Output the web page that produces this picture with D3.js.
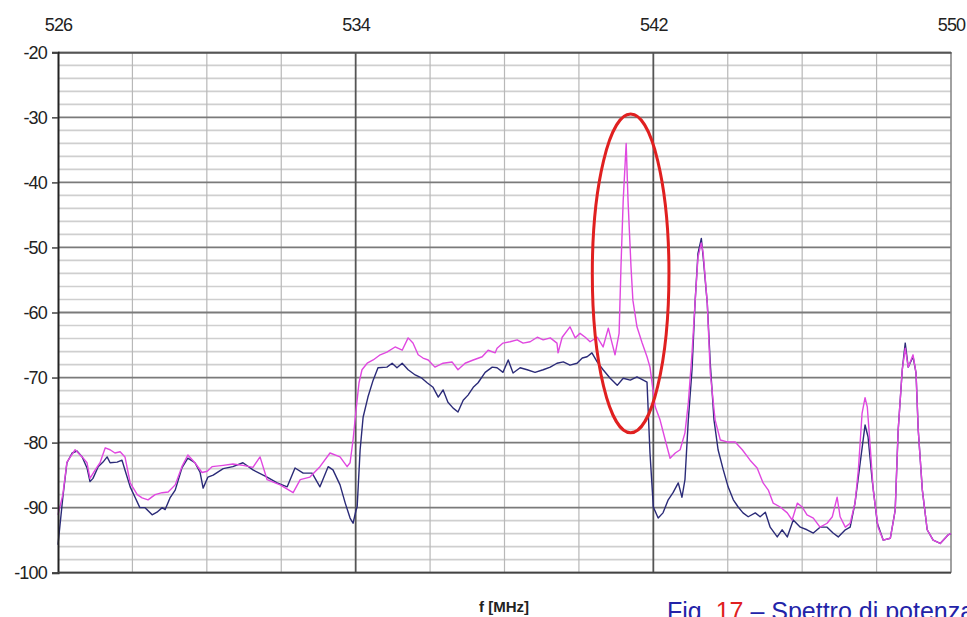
<!DOCTYPE html>
<html>
<head>
<meta charset="utf-8">
<script src="https://cdn.jsdelivr.net/npm/d3@7"></script>
<style>
  body { margin: 0; background: #fff; overflow: hidden; }
  svg { display: block; }
</style>
</head>
<body>
<svg id="chart" width="967" height="617"></svg>
<script>
// frequency ticks (MHz) and level ticks (dB)
const freqLabels = [526, 534, 542, 550];
const freqMinor = [528, 530, 532, 536, 538, 540, 544, 546, 548];
const dbLabels = [-100, -90, -80, -70, -60, -50, -40, -30, -20];

// [f MHz, level dB]
const traceNavy = [
  [526.00, -95.7], [526.13, -88.4], [526.24, -83.1], [526.38, -81.6], [526.51, -81.3],
  [526.65, -82.2], [526.78, -83.9], [526.86, -86.0], [526.94, -85.5], [527.08, -83.7],
  [527.21, -83.0], [527.32, -82.2], [527.40, -83.1], [527.59, -83.0], [527.72, -82.7],
  [527.80, -84.2], [527.94, -86.8], [528.07, -88.4], [528.20, -90.0], [528.34, -90.0],
  [528.53, -91.1], [528.66, -90.7], [528.80, -90.0], [528.88, -90.3], [529.01, -88.5],
  [529.15, -87.3], [529.33, -83.9], [529.49, -82.4], [529.68, -83.1], [529.82, -84.6],
  [529.90, -87.0], [530.03, -85.3], [530.17, -85.0], [530.44, -84.0], [530.70, -83.7],
  [530.97, -83.1], [531.24, -84.2], [531.62, -85.3], [531.89, -86.2], [532.16, -86.8],
  [532.37, -83.9], [532.59, -84.7], [532.83, -84.7], [533.04, -86.8], [533.26, -83.7],
  [533.39, -84.2], [533.58, -86.5], [533.72, -89.3], [533.85, -91.6], [533.93, -92.4],
  [534.01, -90.4], [534.04, -89.9], [534.12, -81.1], [534.20, -76.1], [534.33, -73.0],
  [534.47, -70.4], [534.60, -68.5], [534.84, -68.4], [534.98, -67.8], [535.11, -68.5],
  [535.25, -67.8], [535.41, -68.8], [535.60, -69.6], [535.78, -70.1], [535.92, -70.8],
  [536.08, -71.5], [536.22, -73.0], [536.35, -71.9], [536.48, -73.8], [536.62, -74.7],
  [536.75, -75.3], [536.89, -73.5], [537.02, -72.7], [537.16, -71.5], [537.29, -70.8],
  [537.48, -69.2], [537.67, -68.4], [537.80, -68.5], [537.96, -69.2], [538.10, -67.3],
  [538.23, -69.3], [538.42, -68.5], [538.61, -68.8], [538.82, -69.2], [539.04, -68.8],
  [539.23, -68.4], [539.41, -67.8], [539.58, -67.6], [539.76, -68.1], [539.95, -67.8],
  [540.09, -67.0], [540.22, -66.8], [540.35, -66.2], [540.49, -67.6], [540.65, -68.8],
  [540.84, -70.1], [541.03, -71.2], [541.19, -70.1], [541.38, -70.4], [541.56, -69.9],
  [541.73, -70.4], [541.83, -70.7], [541.91, -81.6], [542.00, -89.9], [542.13, -91.6],
  [542.26, -90.8], [542.40, -88.8], [542.53, -87.7], [542.67, -86.2], [542.77, -88.4],
  [542.85, -85.7], [542.94, -76.5], [543.04, -68.8], [543.12, -58.6], [543.20, -50.9],
  [543.29, -48.6], [543.34, -51.5], [543.45, -58.6], [543.53, -67.8], [543.63, -76.5],
  [543.74, -81.1], [543.88, -84.2], [544.01, -86.8], [544.15, -88.8], [544.28, -89.9],
  [544.41, -90.8], [544.55, -91.4], [544.74, -90.8], [544.87, -91.4], [545.01, -90.7],
  [545.14, -93.0], [545.33, -94.5], [545.46, -93.4], [545.60, -94.5], [545.76, -91.9],
  [545.95, -93.0], [546.13, -93.4], [546.30, -93.9], [546.48, -93.0], [546.67, -93.0],
  [546.83, -93.9], [546.97, -94.5], [547.16, -93.4], [547.29, -93.0], [547.42, -89.3],
  [547.56, -83.1], [547.69, -77.3], [547.77, -79.1], [547.88, -85.7], [548.02, -92.4],
  [548.18, -95.0], [548.37, -94.7], [548.50, -90.4], [548.58, -78.1], [548.69, -68.8],
  [548.77, -64.7], [548.85, -68.4], [548.98, -66.8], [549.06, -69.3], [549.12, -78.1],
  [549.23, -87.3], [549.36, -93.4], [549.52, -95.0], [549.71, -95.5], [549.84, -94.7],
  [549.92, -94.2], [550.00, -94.0]
];

const traceMagenta = [
  [526.00, -91.1], [526.13, -88.0], [526.24, -83.0], [526.46, -81.1], [526.65, -82.2],
  [526.78, -83.1], [526.86, -85.5], [527.00, -84.2], [527.13, -83.1], [527.27, -80.8],
  [527.40, -81.1], [527.53, -81.6], [527.67, -81.4], [527.80, -82.2], [527.94, -86.2],
  [528.13, -88.0], [528.26, -88.5], [528.42, -88.8], [528.61, -88.0], [528.80, -87.7],
  [528.96, -87.6], [529.15, -86.5], [529.33, -83.7], [529.49, -81.9], [529.68, -83.1],
  [529.87, -84.6], [530.01, -84.4], [530.14, -83.7], [530.44, -83.5], [530.70, -83.3],
  [530.97, -83.5], [531.24, -83.8], [531.43, -82.2], [531.62, -85.7], [531.97, -86.5],
  [532.32, -87.7], [532.51, -85.7], [532.77, -85.3], [533.04, -83.7], [533.31, -81.6],
  [533.58, -82.2], [533.77, -83.7], [533.85, -83.1], [533.93, -79.6], [534.01, -75.0],
  [534.09, -70.8], [534.17, -68.8], [534.31, -67.8], [534.47, -67.3], [534.66, -66.5],
  [534.84, -66.1], [535.06, -65.3], [535.25, -65.8], [535.41, -63.9], [535.54, -64.7],
  [535.68, -66.5], [535.81, -67.0], [535.95, -67.3], [536.13, -68.4], [536.35, -67.8],
  [536.59, -67.6], [536.75, -68.8], [536.94, -67.8], [537.16, -67.3], [537.40, -66.8],
  [537.56, -65.8], [537.75, -66.2], [537.80, -65.5], [537.96, -64.7], [538.15, -64.5],
  [538.34, -64.2], [538.50, -64.7], [538.69, -64.5], [538.88, -63.8], [539.04, -64.2],
  [539.23, -63.9], [539.41, -64.7], [539.44, -66.2], [539.55, -63.8], [539.76, -62.2],
  [539.90, -63.9], [540.03, -63.2], [540.17, -63.8], [540.30, -64.5], [540.49, -63.8],
  [540.65, -65.3], [540.79, -62.4], [540.89, -64.7], [540.97, -66.5], [541.08, -63.2],
  [541.13, -53.0], [541.19, -42.8], [541.27, -34.0], [541.32, -42.8], [541.40, -53.0],
  [541.45, -58.1], [541.56, -62.2], [541.70, -64.7], [541.83, -66.8], [541.91, -68.4],
  [542.05, -74.5], [542.18, -76.5], [542.32, -79.6], [542.45, -82.4], [542.59, -81.6],
  [542.72, -81.1], [542.85, -78.5], [542.94, -73.9], [543.04, -66.2], [543.12, -58.6],
  [543.20, -51.5], [543.29, -49.3], [543.34, -50.9], [543.45, -58.6], [543.53, -69.3],
  [543.66, -76.5], [543.80, -79.6], [543.98, -79.9], [544.20, -79.9], [544.39, -81.1],
  [544.60, -82.7], [544.79, -83.9], [544.95, -86.2], [545.09, -87.3], [545.22, -89.3],
  [545.41, -89.9], [545.60, -90.8], [545.73, -91.9], [545.87, -89.3], [546.00, -89.9],
  [546.13, -91.1], [546.30, -91.6], [546.48, -93.0], [546.67, -92.4], [546.81, -91.4],
  [546.94, -88.4], [547.02, -91.4], [547.16, -93.0], [547.29, -92.4], [547.42, -89.3],
  [547.51, -84.2], [547.61, -75.5], [547.69, -73.1], [547.75, -74.5], [547.83, -80.7],
  [547.91, -87.3], [548.04, -93.0], [548.18, -95.0], [548.37, -94.7], [548.50, -90.4],
  [548.58, -78.1], [548.69, -68.8], [548.77, -65.5], [548.85, -68.4], [548.98, -66.5],
  [549.06, -69.3], [549.12, -78.1], [549.23, -87.3], [549.36, -93.4], [549.52, -95.0],
  [549.71, -95.5], [549.84, -94.7], [549.92, -94.2], [550.00, -94.0]
];

// the red ring around the spur: centre and half-widths in data units
const highlight = { f: 541.39, db: -54.0, df: 1.03, ddb: 24.5 };

const svg = d3.select("#chart");
const plot = { left: 58, right: 951, top: 52.3, bottom: 572.7 };

const x = d3.scaleLinear().domain([526, 550]).range([plot.left, plot.right]);
const y = d3.scaleLinear().domain([-100, -20]).range([plot.bottom, plot.top]);

svg.append("rect").attr("width", 967).attr("height", 617).attr("fill", "#fff");

// minor horizontal grid every 2 dB
const grid = svg.append("g");
grid.selectAll(".hminor")
  .data(d3.range(-98, -20, 2).filter(d => d % 10 !== 0))
  .enter().append("line")
    .attr("x1", plot.left).attr("x2", plot.right)
    .attr("y1", d => y(d)).attr("y2", d => y(d))
    .attr("stroke", "#cfcfcf").attr("stroke-width", 1.7);

// minor vertical grid
grid.selectAll(".vminor")
  .data(freqMinor)
  .enter().append("line")
    .attr("x1", d => x(d)).attr("x2", d => x(d))
    .attr("y1", plot.top).attr("y2", plot.bottom)
    .attr("stroke", "#b8b8b8").attr("stroke-width", 1.2);

// major horizontal grid every 10 dB
grid.selectAll(".hmajor")
  .data(dbLabels)
  .enter().append("line")
    .attr("x1", plot.left).attr("x2", plot.right)
    .attr("y1", d => y(d)).attr("y2", d => y(d))
    .attr("stroke", "#7a7a7a").attr("stroke-width", 1.8);

// major vertical grid
grid.selectAll(".vmajor")
  .data(freqLabels.slice(1, -1))
  .enter().append("line")
    .attr("x1", d => x(d)).attr("x2", d => x(d))
    .attr("y1", plot.top).attr("y2", plot.bottom)
    .attr("stroke", "#555").attr("stroke-width", 1.8);

// right border
svg.append("line")
  .attr("x1", plot.right).attr("x2", plot.right)
  .attr("y1", plot.top).attr("y2", plot.bottom)
  .attr("stroke", "#8a8a8a").attr("stroke-width", 1.6);

// traces: navy first, magenta over it
const line = d3.line().x(d => x(d[0])).y(d => y(d[1]));
svg.append("path").datum(traceNavy)
  .attr("d", line).attr("fill", "none")
  .attr("stroke", "#2b2b78").attr("stroke-width", 1.4).attr("stroke-linejoin", "round");
svg.append("path").datum(traceMagenta)
  .attr("d", line).attr("fill", "none")
  .attr("stroke", "#e048e0").attr("stroke-width", 1.4).attr("stroke-linejoin", "round");

// axes (plain hyphen for the minus, like the source)
const fontFam = "'Liberation Sans', Arial, sans-serif";
const plain = d => String(d);

const topAxis = svg.append("g")
  .attr("transform", `translate(0,${plot.top})`)
  .call(d3.axisTop(x).tickValues(freqLabels).tickSize(0).tickPadding(21).tickFormat(plain));
topAxis.select(".domain").attr("stroke", "#555").attr("stroke-width", 1.8);
topAxis.selectAll("text")
  .attr("font-family", fontFam).attr("font-size", 18).attr("letter-spacing", -0.8).attr("fill", "#222");

const leftAxis = svg.append("g")
  .attr("transform", `translate(${plot.left},0)`)
  .call(d3.axisLeft(y).tickValues(dbLabels).tickSize(6).tickPadding(5).tickFormat(plain));
leftAxis.select(".domain").attr("stroke", "#222").attr("stroke-width", 2);
leftAxis.selectAll(".tick line").attr("stroke", "#444").attr("stroke-width", 1.5);
leftAxis.selectAll("text")
  .attr("font-family", fontFam).attr("font-size", 18).attr("letter-spacing", -0.8).attr("fill", "#222");

// bottom border
svg.append("line")
  .attr("x1", plot.left).attr("x2", plot.right)
  .attr("y1", plot.bottom).attr("y2", plot.bottom)
  .attr("stroke", "#444").attr("stroke-width", 1.8);

// highlight ring
svg.append("ellipse")
  .attr("cx", x(highlight.f)).attr("cy", y(highlight.db))
  .attr("rx", x(highlight.f + highlight.df) - x(highlight.f))
  .attr("ry", y(highlight.db - highlight.ddb) - y(highlight.db))
  .attr("fill", "none").attr("stroke", "#e02020").attr("stroke-width", 3);

// x axis title
svg.append("text")
  .attr("x", 504).attr("y", 612)
  .attr("text-anchor", "middle")
  .attr("font-family", fontFam).attr("font-size", 15).attr("font-weight", "bold")
  .attr("fill", "#222")
  .text("f [MHz]");

// caption, cut by the page edge as in the source
const caption = svg.append("text")
  .attr("x", 667).attr("y", 620)
  .attr("font-family", fontFam).attr("font-size", 25)
  .attr("fill", "#2323a8");
caption.append("tspan").text("Fig. ");
caption.append("tspan").attr("fill", "#e02020").text("17");
caption.append("tspan").text(" \u2013 Spettro di potenza");
</script>
</body>
</html>
